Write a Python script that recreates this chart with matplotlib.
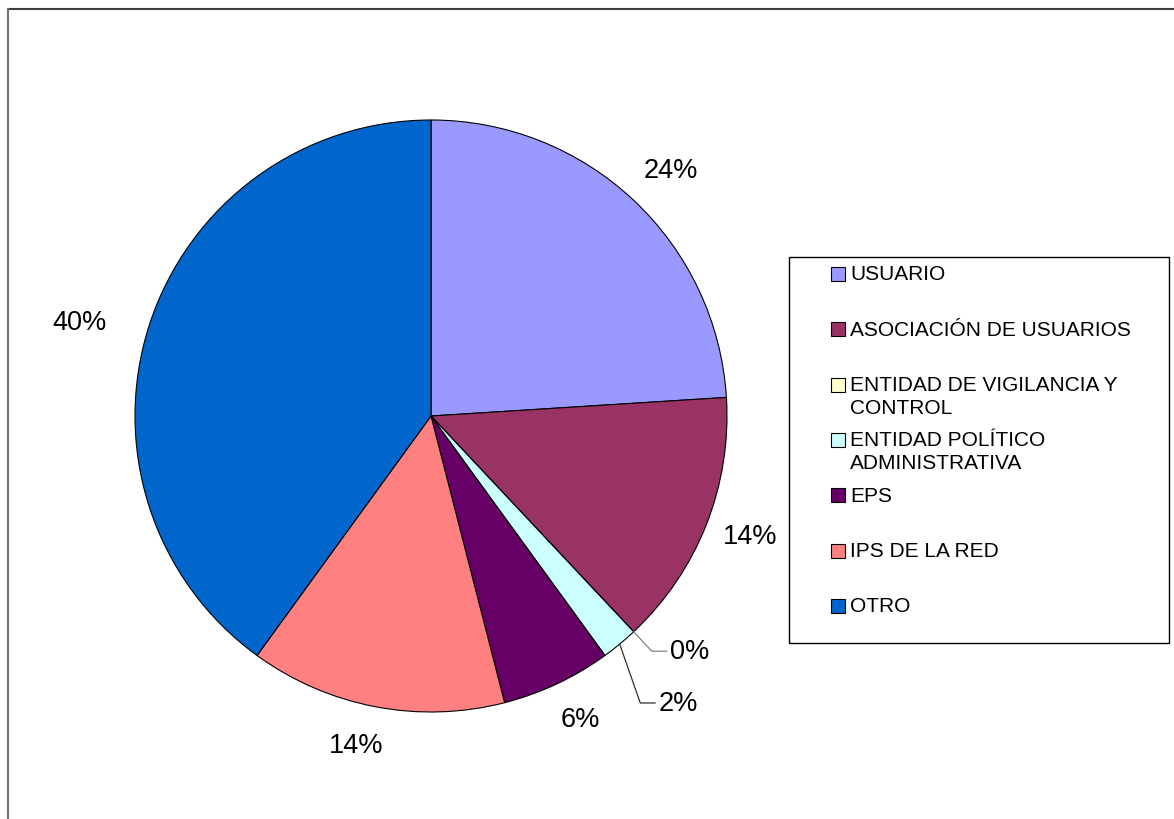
import numpy as np
import matplotlib
matplotlib.use("Agg")
import matplotlib.pyplot as plt
from matplotlib.patches import Rectangle
from matplotlib.lines import Line2D

plt.rcParams['font.family'] = ['Liberation Sans', 'DejaVu Sans']

# data (percent)
categories = ['USUARIO', 'ASOCIACIÓN DE USUARIOS', 'ENTIDAD DE VIGILANCIA Y\nCONTROL',
              'ENTIDAD POLÍTICO\nADMINISTRATIVA', 'EPS', 'IPS DE LA RED', 'OTRO']
values = [24, 14, 0, 2, 6, 14, 40]
colors = ['#9999FF', '#993366', '#FFFFCC', '#CCFFFF', '#660066', '#FF8080', '#0066CC']

# label placement: radius (fraction of R), angle shift (deg), leader line or not
label_radius = [1.16, 1.15, 1.09, 1.20, 1.14, 1.14, 1.23]
label_shift = [-1, 1, 0, -3.5, 1, -2, 3]
use_leader = [False, False, True, True, False, False, False]

W, H = 1174, 820
fig = plt.figure(figsize=(W / 100, H / 100), dpi=100)

# outer frame (only top/left visible in the reference)
fx, fy = 8 / W, 1 - 9.5 / H
fig.add_artist(Line2D([fx, 1], [fy, fy], transform=fig.transFigure, color='#404040', lw=1.5))
fig.add_artist(Line2D([fx, fx], [0, fy], transform=fig.transFigure, color='#707070', lw=1.5))

# pie
cx, cy, R = 431, 417, 296
ax = fig.add_axes([(cx - R) / W, (H - cy - R) / H, 2 * R / W, 2 * R / H])
wedges, _ = ax.pie(values, colors=colors, startangle=90, counterclock=False,
                   wedgeprops=dict(edgecolor='black', linewidth=0.8))
ax.set_xlim(-1, 1)
ax.set_ylim(-1, 1)
ax.axis('off')

total = sum(values)
for w, v, r, sh, lead in zip(wedges, values, label_radius, label_shift, use_leader):
    pct = f"{round(100 * v / total):d}%"
    mid = np.deg2rad((w.theta1 + w.theta2) / 2)
    ang = mid + np.deg2rad(sh)
    if lead:
        x0, y0 = np.cos(mid), np.sin(mid)
        x1, y1 = r * np.cos(ang), r * np.sin(ang)
        x2 = x1 + 0.05
        ax.plot([x0, x1, x2], [y0, y1, y1], color='#303030' if v > 0 else '#808080',
                lw=0.9, clip_on=False)
        ax.text(x2 + 0.012, y1, pct, ha='left', va='center', fontsize=19.5)
    else:
        ax.text(r * np.cos(ang), r * np.sin(ang), pct, ha='center', va='center', fontsize=19.5)

# legend drawn in pixel coordinates
lax = fig.add_axes([0, 0, 1, 1])
lax.set_xlim(0, W)
lax.set_ylim(H, 0)
lax.axis('off')
lax.add_patch(Rectangle((789, 258), 380, 386, fill=False, edgecolor='black', lw=1))
slot0, slot_step = 275, 55.3
for i, (lab, col) in enumerate(zip(categories, colors)):
    y = slot0 + i * slot_step
    lax.add_patch(Rectangle((831, y - 7), 14, 14, facecolor=col, edgecolor='black', lw=0.8))
    for j, line in enumerate(lab.split('\n')):
        lax.text(850, y + j * 23, line, ha='left', va='center', fontsize=15)

fig.savefig('out.png', dpi=100)
